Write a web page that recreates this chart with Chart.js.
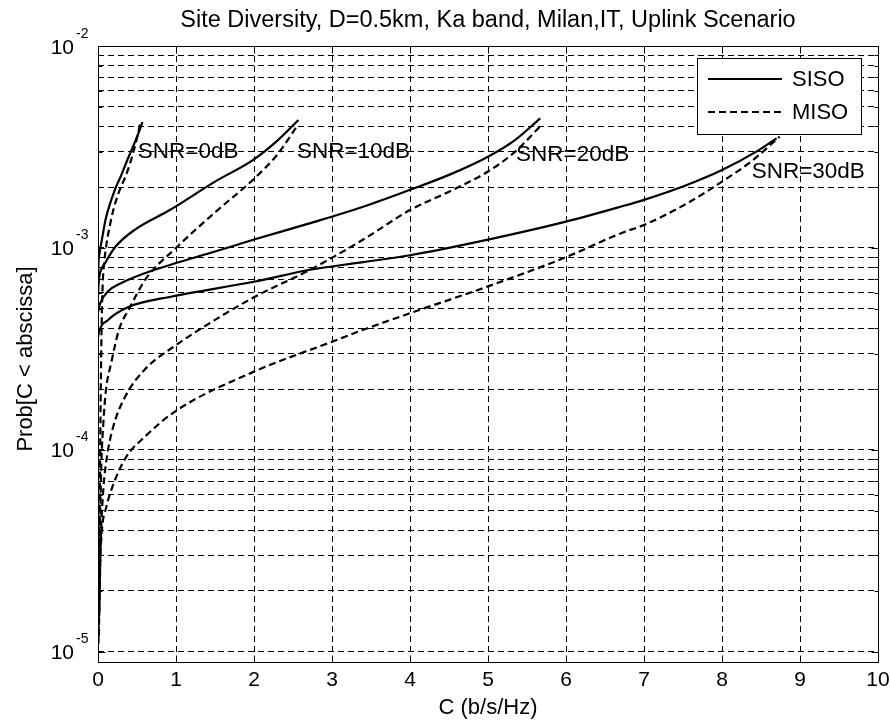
<!DOCTYPE html>
<html>
<head>
<meta charset="utf-8">
<style>
  html, body { margin: 0; padding: 0; background: #ffffff; }
  #wrap { width: 890px; height: 727px; }
</style>
<script src="https://cdn.jsdelivr.net/npm/chart.js@4.4.0/dist/chart.umd.min.js"></script>
</head>
<body>
<div id="wrap"><canvas id="c" width="890" height="727"></canvas></div>
<script>
// Capacity CDF curves, SISO vs MISO, per SNR (capacity in b/s/Hz, probability)
const siso0C = [0, 0.005, 0.02, 0.05, 0.1, 0.16, 0.23, 0.3, 0.38, 0.46, 0.53, 0.57];
const siso0P = [6.5e-4, 8.2e-4, 9.4e-4, 1.1e-3, 1.4e-3, 1.68e-3, 2.0e-3, 2.3e-3, 2.75e-3, 3.25e-3, 3.8e-3, 4.2e-3];
const miso0C = [0.006, 0.012, 0.018, 0.024, 0.03, 0.038, 0.048, 0.06, 0.08, 0.11, 0.15, 0.2, 0.27, 0.37, 0.45, 0.5, 0.54];
const miso0P = [1.1e-5, 1.8e-5, 3.2e-5, 6e-5, 1.2e-4, 2.4e-4, 4.4e-4, 6.6e-4, 8.5e-4, 1.05e-3, 1.28e-3, 1.56e-3, 1.9e-3, 2.35e-3, 2.95e-3, 3.5e-3, 4.1e-3];

const siso10C = [0, 0.01, 0.03, 0.09, 0.22, 0.47, 0.92, 1.5, 1.99, 2.3, 2.57];
const siso10P = [5.8e-4, 6.9e-4, 7.6e-4, 8.4e-4, 1.01e-3, 1.23e-3, 1.54e-3, 2.13e-3, 2.73e-3, 3.4e-3, 4.3e-3];
const miso10C = [0.012, 0.02, 0.03, 0.045, 0.068, 0.1, 0.17, 0.27, 0.4, 0.61, 1.0, 1.5, 2.0, 2.3, 2.55];
const miso10P = [1.2e-5, 2.5e-5, 5e-5, 9e-5, 1.35e-4, 1.95e-4, 2.7e-4, 3.95e-4, 5.0e-4, 7.0e-4, 1.0e-3, 1.5e-3, 2.2e-3, 2.9e-3, 4.0e-3];

const siso20C = [0, 0.026, 0.13, 0.3, 0.6, 0.95, 1.5, 2.0, 2.7, 3.4, 4.0, 4.5, 5.0, 5.35, 5.67];
const siso20P = [4.8e-4, 5.3e-4, 6.1e-4, 6.7e-4, 7.5e-4, 8.3e-4, 9.6e-4, 1.1e-3, 1.32e-3, 1.6e-3, 1.94e-3, 2.3e-3, 2.83e-3, 3.43e-3, 4.38e-3];
const miso20C = [0.015, 0.025, 0.04, 0.07, 0.11, 0.19, 0.35, 0.6, 1.0, 1.5, 2.0, 2.72, 3.4, 4.0, 4.5, 5.0, 5.35, 5.67];
const miso20P = [1.5e-5, 2.5e-5, 4e-5, 6.5e-5, 9e-5, 1.28e-4, 1.84e-4, 2.5e-4, 3.3e-4, 4.4e-4, 5.7e-4, 7.8e-4, 1.1e-3, 1.54e-3, 1.9e-3, 2.39e-3, 3.0e-3, 4.0e-3];

const siso30C = [0, 0.01, 0.13, 0.39, 0.95, 2.0, 2.72, 3.4, 4.0, 5.0, 6.0, 6.7, 7.0, 7.55, 8.0, 8.44, 8.7];
const siso30P = [3.6e-4, 3.8e-4, 4.4e-4, 5.1e-4, 5.75e-4, 6.8e-4, 7.8e-4, 8.5e-4, 9.2e-4, 1.1e-3, 1.35e-3, 1.6e-3, 1.73e-3, 2.05e-3, 2.43e-3, 3.0e-3, 3.49e-3];
const miso30C = [0.018, 0.03, 0.05, 0.1, 0.2, 0.36, 0.6, 1.0, 2.0, 3.0, 3.4, 4.0, 5.0, 6.0, 6.7, 7.0, 7.55, 8.0, 8.4, 8.74];
const miso30P = [1.6e-5, 2.8e-5, 4e-5, 5.1e-5, 6.8e-5, 9.2e-5, 1.16e-4, 1.56e-4, 2.44e-4, 3.43e-4, 3.93e-4, 4.75e-4, 6.45e-4, 9.0e-4, 1.18e-3, 1.3e-3, 1.66e-3, 2.13e-3, 2.73e-3, 3.56e-3];

// Axis ticks
const xTickValues = [0, 1, 2, 3, 4, 5, 6, 7, 8, 9, 10];
const yDecadeExponents = [-5, -4, -3, -2];

// Curve annotations
const snrLabels = ['SNR=0dB', 'SNR=10dB', 'SNR=20dB', 'SNR=30dB'];
const snrLabelC = [0.51, 2.55, 5.36, 8.38];
const snrLabelP = [3.0e-3, 3.0e-3, 2.88e-3, 2.38e-3];

const legendNames = ['SISO', 'MISO'];
const titleText = 'Site Diversity, D=0.5km, Ka band, Milan,IT, Uplink Scenario';
const xTitle = 'C (b/s/Hz)';
const yTitle = 'Prob[C < abscissa]';

const FONT = '"Liberation Sans", Arial, Helvetica, sans-serif';
const DASH = [7, 4];

function pts(cs, ps) { return cs.map((c, i) => ({ x: c, y: ps[i] })); }
function series(label, cs, ps, dashed) {
  return {
    label: label,
    data: pts(cs, ps),
    borderColor: '#000',
    borderWidth: 2.2,
    borderDash: dashed ? DASH : [],
    pointRadius: 0,
    fill: false,
    cubicInterpolationMode: 'monotone'
  };
}

// Log grid values: 1..9 x each decade, up to the top decade
const yGridValues = [];
for (let d = yDecadeExponents[0]; d < yDecadeExponents[yDecadeExponents.length - 1]; d++) {
  for (let m = 1; m <= 9; m++) yGridValues.push(m * Math.pow(10, d));
}
yGridValues.push(Math.pow(10, yDecadeExponents[yDecadeExponents.length - 1]));

const decorations = {
  id: 'decorations',
  afterDraw(chart) {
    const ctx = chart.ctx;
    const a = chart.chartArea;
    const xs = chart.scales.x, ys = chart.scales.y;
    const L = Math.round(a.left) + 0.5, R = Math.round(a.right) + 0.5;
    const T = Math.round(a.top) + 0.5, B = Math.round(a.bottom) + 0.5;
    ctx.save();
    ctx.fillStyle = '#000';
    ctx.strokeStyle = '#000';
    ctx.lineWidth = 1;
    ctx.setLineDash([]);

    // axes box
    ctx.strokeRect(L, T, R - L, B - T);

    // inward tick marks
    ctx.beginPath();
    xTickValues.forEach(v => {
      const px = Math.round(xs.getPixelForValue(v)) + 0.5;
      ctx.moveTo(px, B); ctx.lineTo(px, B - 7);
      ctx.moveTo(px, T); ctx.lineTo(px, T + 7);
    });
    yGridValues.forEach(v => {
      const py = Math.round(ys.getPixelForValue(v)) + 0.5;
      const major = Math.abs(Math.log10(v) - Math.round(Math.log10(v))) < 1e-9;
      const len = major ? 7 : 4;
      ctx.moveTo(L, py); ctx.lineTo(L + len, py);
      ctx.moveTo(R, py); ctx.lineTo(R - len, py);
    });
    ctx.stroke();

    // x tick labels
    ctx.font = '21px ' + FONT;
    ctx.textAlign = 'center';
    ctx.textBaseline = 'alphabetic';
    xTickValues.forEach(v => {
      ctx.fillText(String(v), xs.getPixelForValue(v), 686);
    });

    // y tick labels: 10 with superscript exponent
    yDecadeExponents.forEach(e => {
      const py = ys.getPixelForValue(Math.pow(10, e));
      ctx.font = '21px ' + FONT;
      ctx.textAlign = 'right';
      ctx.fillText('10', 74, py + 7.5);
      ctx.font = '14px ' + FONT;
      ctx.textAlign = 'left';
      ctx.fillText(String(e), 76, py - 8.5);
    });

    // title
    ctx.font = '23.5px ' + FONT;
    ctx.textAlign = 'center';
    ctx.fillText(titleText, (a.left + a.right) / 2, 27);

    // x axis title
    ctx.font = '22px ' + FONT;
    ctx.fillText(xTitle, (a.left + a.right) / 2, 714);

    // y axis title
    ctx.save();
    ctx.translate(32, (a.top + a.bottom) / 2 + 5);
    ctx.rotate(-Math.PI / 2);
    ctx.textAlign = 'center';
    ctx.fillText(yTitle, 0, 0);
    ctx.restore();

    // SNR annotations
    ctx.font = '22.5px ' + FONT;
    ctx.textAlign = 'left';
    ctx.textBaseline = 'middle';
    snrLabels.forEach((s, i) => {
      ctx.fillText(s, xs.getPixelForValue(snrLabelC[i]), ys.getPixelForValue(snrLabelP[i]));
    });

    // legend
    const bx = 697.5, by = 58.5, bw = 164, bh = 76;
    ctx.fillStyle = '#fff';
    ctx.fillRect(bx, by, bw, bh);
    ctx.strokeStyle = '#000';
    ctx.strokeRect(bx, by, bw, bh);
    const rowY = [79, 112];
    ctx.lineWidth = 2.2;
    legendNames.forEach((n, i) => {
      ctx.setLineDash(i === 0 ? [] : DASH);
      ctx.beginPath();
      ctx.moveTo(708, rowY[i]);
      ctx.lineTo(782, rowY[i]);
      ctx.stroke();
    });
    ctx.setLineDash([]);
    ctx.fillStyle = '#000';
    ctx.font = '22px ' + FONT;
    ctx.textAlign = 'left';
    ctx.textBaseline = 'middle';
    legendNames.forEach((n, i) => ctx.fillText(n, 792, rowY[i] + 1));

    ctx.restore();
  }
};

new Chart(document.getElementById('c'), {
  type: 'line',
  data: {
    datasets: [
      series('SISO', siso0C, siso0P, false),
      series('MISO', miso0C, miso0P, true),
      series('SISO', siso10C, siso10P, false),
      series('MISO', miso10C, miso10P, true),
      series('SISO', siso20C, siso20P, false),
      series('MISO', miso20C, miso20P, true),
      series('SISO', siso30C, siso30P, false),
      series('MISO', miso30C, miso30P, true)
    ]
  },
  options: {
    responsive: false,
    animation: false,
    devicePixelRatio: 1,
    layout: { padding: { left: 0, right: 12, top: 46, bottom: 0 } },
    plugins: {
      legend: { display: false },
      title: { display: false },
      tooltip: { enabled: false }
    },
    scales: {
      x: {
        type: 'linear',
        min: 0,
        max: 10,
        afterBuildTicks(scale) { scale.ticks = xTickValues.map(v => ({ value: v })); },
        afterFit(scale) { scale.height = 65; },
        ticks: { display: false },
        grid: { color: '#000', lineWidth: 1, drawTicks: false },
        border: { display: false, dash: [6, 4] }
      },
      y: {
        type: 'logarithmic',
        min: 8.9e-6,
        max: 1e-2,
        afterBuildTicks(scale) { scale.ticks = yGridValues.map(v => ({ value: v })); },
        afterFit(scale) { scale.width = 98; },
        ticks: { display: false },
        grid: { color: '#000', lineWidth: 1, drawTicks: false },
        border: { display: false, dash: [6, 4] }
      }
    }
  },
  plugins: [decorations]
});
</script>
</body>
</html>
